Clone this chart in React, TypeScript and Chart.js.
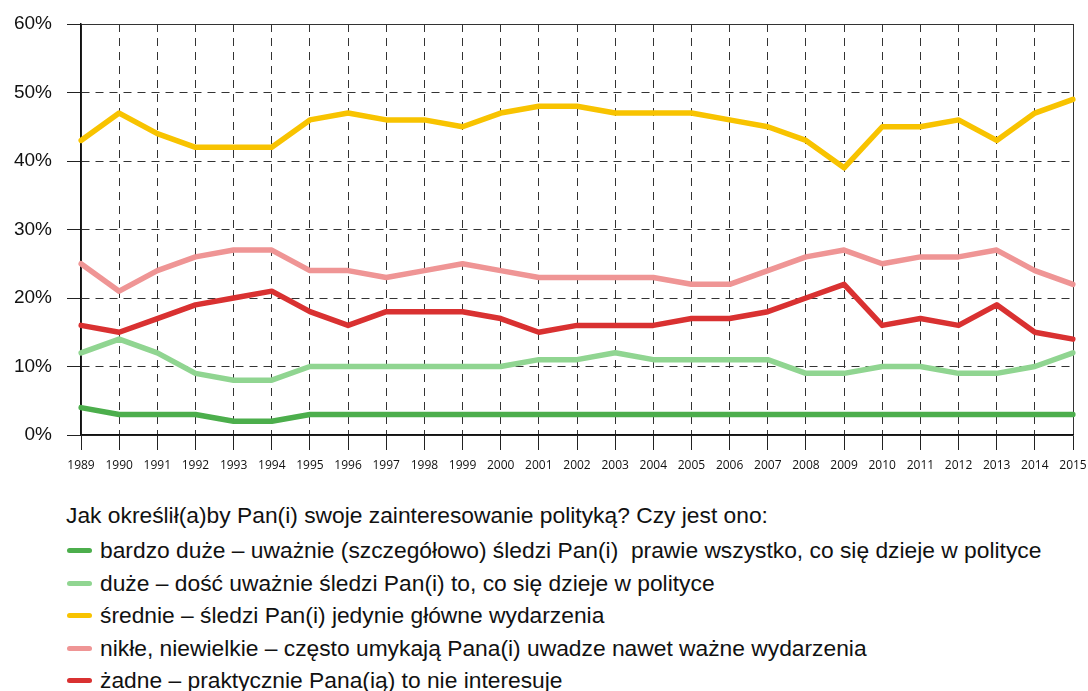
import React, { useEffect, useRef } from "react";
import { Chart, registerables } from "chart.js";

Chart.register(...registerables);

const years = ["1989","1990","1991","1992","1993","1994","1995","1996","1997","1998","1999","2000","2001","2002","2003","2004","2005","2006","2007","2008","2009","2010","2011","2012","2013","2014","2015"];

const bardzoDuze = [4,3,3,3,2,2,3,3,3,3,3,3,3,3,3,3,3,3,3,3,3,3,3,3,3,3,3];
const duze = [12,14,12,9,8,8,10,10,10,10,10,10,11,11,12,11,11,11,11,9,9,10,10,9,9,10,12];
const srednie = [43,47,44,42,42,42,46,47,46,46,45,47,48,48,47,47,47,46,45,43,39,45,45,46,43,47,49];
const nikle = [25,21,24,26,27,27,24,24,23,24,25,24,23,23,23,23,22,22,24,26,27,25,26,26,27,24,22];
const zadne = [16,15,17,19,20,21,18,16,18,18,18,17,15,16,16,16,17,17,18,20,22,16,17,16,19,15,14];

const legendTitle = "Jak określił(a)by Pan(i) swoje zainteresowanie polityką? Czy jest ono:";
const seriesLabels = [
  "bardzo duże – uważnie (szczegółowo) śledzi Pan(i)  prawie wszystko, co się dzieje w polityce",
  "duże – dość uważnie śledzi Pan(i) to, co się dzieje w polityce",
  "średnie – śledzi Pan(i) jedynie główne wydarzenia",
  "nikłe, niewielkie – często umykają Pana(i) uwadze nawet ważne wydarzenia",
  "żadne – praktycznie Pana(ią) to nie interesuje",
];
const seriesColors = ["#4cae4c", "#90d591", "#f8c300", "#ef9595", "#d93131"];
const seriesData = [bardzoDuze, duze, srednie, nikle, zadne];

export default function App() {
  const ref = useRef<HTMLCanvasElement | null>(null);

  useEffect(() => {
    if (!ref.current) return;
    const order = [2, 3, 4, 1, 0];
    const chart = new Chart(ref.current, {
      type: "line",
      data: {
        labels: years,
        datasets: seriesData.map((d, i) => ({
          label: seriesLabels[i],
          data: d,
          borderColor: seriesColors[i],
          backgroundColor: seriesColors[i],
          borderWidth: 5.5,
          pointRadius: 0,
          borderCapStyle: "round" as const,
          borderJoinStyle: "round" as const,
          tension: 0,
          order: order.indexOf(i),
        })),
      },
      options: {
        animation: false,
        responsive: true,
        maintainAspectRatio: false,
        layout: { padding: { top: 24, right: 15, left: 0, bottom: 0 } },
        plugins: { legend: { display: false }, tooltip: { enabled: false } },
        scales: {
          x: {
            offset: false,
            grid: {
              color: "#333",
              lineWidth: 1,
              tickLength: 15,
              tickBorderDash: [],
              tickColor: "#222",
            },
            border: {
              display: true,
              color: "#111",
              width: 1.5,
              dash: (ctx: any) => (ctx.index === years.length - 1 || ctx.index === 0 ? [] : [8, 6]),
            },
            ticks: {
              color: "#111",
              font: { family: "'Open Sans', sans-serif", size: 12 },
              padding: 8,
              maxRotation: 0,
              autoSkip: false,
            },
            afterFit: (s: any) => { s.height = 45; s.paddingLeft = 0; s.paddingRight = 0; },
          },
          y: {
            min: 0,
            max: 60,
            grid: {
              color: "#333",
              lineWidth: 1,
              tickLength: 14,
              tickBorderDash: [],
              tickColor: "#222",
            },
            border: {
              display: true,
              color: "#111",
              width: 1.5,
              dash: (ctx: any) => (ctx.tick && (ctx.tick.value === 60 || ctx.tick.value === 0) ? [] : [8, 6]),
            },
            ticks: {
              stepSize: 10,
              color: "#111",
              font: { family: "'Liberation Sans', Arial, sans-serif", size: 19 },
              padding: 15,
              callback: (v: any) => v + "%",
            },
            afterFit: (s: any) => { s.width = 81; s.paddingTop = 0; s.paddingBottom = 0; },
          },
        },
      },
    });
    return () => chart.destroy();
  }, []);

  const itemCenters = [550, 583, 615, 648, 680];

  return (
    <div style={{ position: "absolute", left: 0, top: 0, width: 1088, height: 691, background: "#fff", overflow: "hidden", fontFamily: "'Liberation Sans', Arial, sans-serif", color: "#111" }}>
      <div style={{ position: "absolute", left: 0, top: 0, width: 1088, height: 480 }}>
        <canvas ref={ref} />
      </div>
      <div style={{ position: "absolute", left: 66, top: 515 - 14, fontSize: 22.8, lineHeight: "28px", whiteSpace: "pre" }}>{legendTitle}</div>
      {seriesLabels.map((l, i) => (
        <div key={i} style={{ position: "absolute", left: 67, top: itemCenters[i] - 14, height: 28, display: "flex", alignItems: "center", whiteSpace: "pre" }}>
          <span style={{ display: "inline-block", width: 25, height: 5, borderRadius: 3, background: seriesColors[i], marginRight: 8 }} />
          <span style={{ fontSize: 22.8, lineHeight: "28px" }}>{l}</span>
        </div>
      ))}
    </div>
  );
}
